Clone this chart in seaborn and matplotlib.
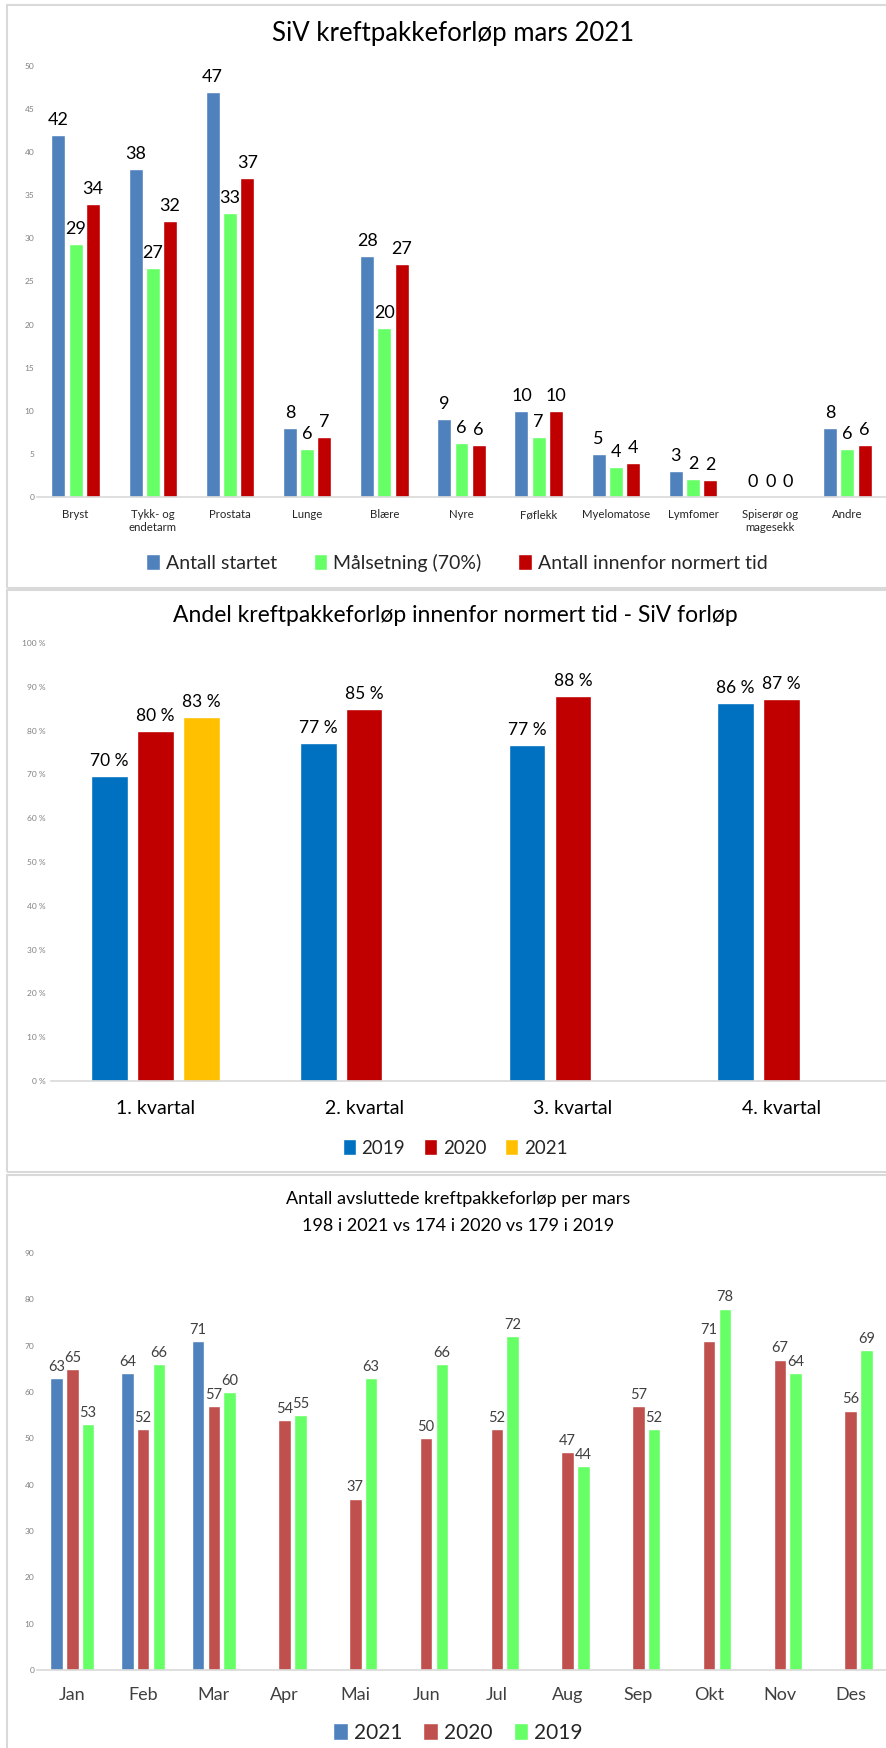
import pandas as pd
import numpy as np
import matplotlib.pyplot as plt
import seaborn as sns
from matplotlib.patches import Rectangle

sns.set_theme(style="white")
plt.rcParams['font.family'] = ['Lato', 'DejaVu Sans']

# ---- data: panel 1 (per cancer type, March 2021)
kreft_types = ['Bryst', 'Tykk- og\nendetarm', 'Prostata', 'Lunge', 'Blære', 'Nyre',
               'Føflekk', 'Myelomatose', 'Lymfomer', 'Spiserør og\nmagesekk', 'Andre']
antall_startet = [42, 38, 47, 8, 28, 9, 10, 5, 3, 0, 8]
maalsetning = [29.4, 26.6, 32.9, 5.6, 19.6, 6.3, 7.0, 3.5, 2.1, 0, 5.6]
antall_innenfor = [34, 32, 37, 7, 27, 6, 10, 4, 2, 0, 6]
serie1 = ['Antall startet', 'Målsetning (70%)', 'Antall innenfor normert tid']

# ---- data: panel 2 (share within normed time per quarter)
kvartaler = ['1. kvartal', '2. kvartal', '3. kvartal', '4. kvartal']
andel_2019 = [0.697, 0.771, 0.768, 0.864]
andel_2020 = [0.80, 0.849, 0.88, 0.872]
andel_2021 = [0.832, np.nan, np.nan, np.nan]
aar2 = ['2019', '2020', '2021']

# ---- data: panel 3 (completed per month)
maaneder = ['Jan', 'Feb', 'Mar', 'Apr', 'Mai', 'Jun', 'Jul', 'Aug', 'Sep', 'Okt', 'Nov', 'Des']
avsl_2021 = [63, 64, 71] + [np.nan] * 9
avsl_2020 = [65, 52, 57, 54, 37, 50, 52, 47, 57, 71, 67, 56]
avsl_2019 = [53, 66, 60, 55, 63, 66, 72, 44, 52, 78, 64, 69]
aar3 = ['2021', '2020', '2019']

W, H = 886, 1748
fig = plt.figure(figsize=(W / 100, H / 100), dpi=100)


def add_ax(x0, x1, ytop, ybot):
    return fig.add_axes([x0 / W, 1 - ybot / H, (x1 - x0) / W, (ybot - ytop) / H])


def style_ax(ax):
    sns.despine(ax=ax, left=True)
    ax.spines['bottom'].set_color('#d9d9d9')
    ax.spines['bottom'].set_linewidth(1.2)
    ax.tick_params(axis='both', length=0)
    ax.set_xlabel('')
    ax.set_ylabel('')
    ax.set_facecolor('none')


# panel borders
for (y0, y1) in [(5, 588), (590, 1172), (1175, 1760)]:
    fig.patches.append(Rectangle((7 / W, 1 - y1 / H), (900 - 7) / W, (y1 - y0) / H,
                                 transform=fig.transFigure, fill=False,
                                 edgecolor='#d9d9d9', linewidth=1.5))

# ---------------- panel 1
df1 = pd.DataFrame({
    'kategori': kreft_types * 3,
    'serie': [serie1[0]] * 11 + [serie1[1]] * 11 + [serie1[2]] * 11,
    'verdi': antall_startet + maalsetning + antall_innenfor,
})
ax1 = add_ax(37, 886, 66, 497)
sns.barplot(data=df1, x='kategori', y='verdi', hue='serie', ax=ax1,
            palette=['#4f81bd', '#66ff66', '#c00000'], width=0.67, gap=0.19,
            errorbar=None, saturation=1)
ax1.set_ylim(0, 50)
ax1.set_xlim(-0.5, 10.5)
ax1.set_yticks(range(0, 51, 5))
ax1.tick_params(axis='y', labelsize=6, labelcolor='#808080', pad=2)
ax1.tick_params(axis='x', labelsize=8.2, labelcolor='#262626', pad=9)
style_ax(ax1)
for c in ax1.containers:
    ax1.bar_label(c, fmt='%.0f', fontsize=13, color='black', padding=5)
h, l = ax1.get_legend_handles_labels()
ax1.get_legend().remove()
fig.legend(h, l, loc='center', bbox_to_anchor=(457 / W, 1 - 563 / H), ncol=3,
           frameon=False, fontsize=14, handlelength=0.7, handleheight=0.9,
           handletextpad=0.3, columnspacing=1.9)
fig.text(453 / W, 1 - 34 / H, 'SiV kreftpakkeforløp mars 2021', ha='center', va='center',
         fontsize=18.5, color='black')

# ---------------- panel 2
df2 = pd.DataFrame({
    'kvartal': kvartaler * 3,
    'aar': [aar2[0]] * 4 + [aar2[1]] * 4 + [aar2[2]] * 4,
    'andel': andel_2019 + andel_2020 + andel_2021,
})
ax2 = add_ax(51, 886, 643, 1081)
sns.barplot(data=df2, x='kvartal', y='andel', hue='aar', ax=ax2,
            palette=['#0070c0', '#c00000', '#ffc000'], width=0.66, gap=0.2,
            errorbar=None, saturation=1)
ax2.set_ylim(0, 1)
ax2.set_xlim(-0.5, 3.5)
ax2.set_yticks(np.arange(0, 1.01, 0.1))
ax2.set_yticklabels([f'{int(round(v * 100))}\u00a0%' for v in np.arange(0, 1.01, 0.1)])
ax2.tick_params(axis='y', labelsize=6, labelcolor='#808080', pad=4)
ax2.tick_params(axis='x', labelsize=14, labelcolor='black', pad=14)
style_ax(ax2)
for c in ax2.containers:
    ax2.bar_label(c, labels=[f'{v * 100:.0f}\u00a0%' for v in c.datavalues],
                  fontsize=12.5, color='black', padding=5)
h, l = ax2.get_legend_handles_labels()
ax2.get_legend().remove()
fig.legend(h, l, loc='center', bbox_to_anchor=(455 / W, 1 - 1148 / H), ncol=3,
           frameon=False, fontsize=13.5, handlelength=0.7, handleheight=0.9,
           handletextpad=0.3, columnspacing=1.0)
fig.text(455 / W, 1 - 616 / H, 'Andel kreftpakkeforløp innenfor normert tid - SiV forløp',
         ha='center', va='center', fontsize=16.5, color='black')

# ---------------- panel 3
df3 = pd.DataFrame({
    'maaned': maaneder * 3,
    'aar': [aar3[0]] * 12 + [aar3[1]] * 12 + [aar3[2]] * 12,
    'antall': avsl_2021 + avsl_2020 + avsl_2019,
})
ax3 = add_ax(37, 886, 1253, 1670)
sns.barplot(data=df3, x='maaned', y='antall', hue='aar', ax=ax3,
            palette=['#4f81bd', '#c0504d', '#66ff66'], width=0.665, gap=0.2,
            errorbar=None, saturation=1)
ax3.set_ylim(0, 90)
ax3.set_xlim(-0.5, 11.5)
ax3.set_yticks(range(0, 91, 10))
ax3.tick_params(axis='y', labelsize=6, labelcolor='#808080', pad=2)
ax3.tick_params(axis='x', labelsize=13, labelcolor='#404040', pad=12)
style_ax(ax3)
for c in ax3.containers:
    ax3.bar_label(c, fmt='%.0f', fontsize=10.5, color='#404040', padding=3)
h, l = ax3.get_legend_handles_labels()
ax3.get_legend().remove()
fig.legend(h, l, loc='center', bbox_to_anchor=(458 / W, 1 - 1733 / H), ncol=3,
           frameon=False, fontsize=15, handlelength=0.7, handleheight=0.9,
           handletextpad=0.3, columnspacing=1.0)
fig.text(458 / W, 1 - 1199 / H, 'Antall avsluttede kreftpakkeforløp per mars',
         ha='center', va='center', fontsize=13, color='black')
fig.text(458 / W, 1 - 1226 / H, '198 i 2021 vs 174 i 2020 vs 179 i 2019',
         ha='center', va='center', fontsize=13, color='black')

fig.savefig('out.png', dpi=100, facecolor='white')
